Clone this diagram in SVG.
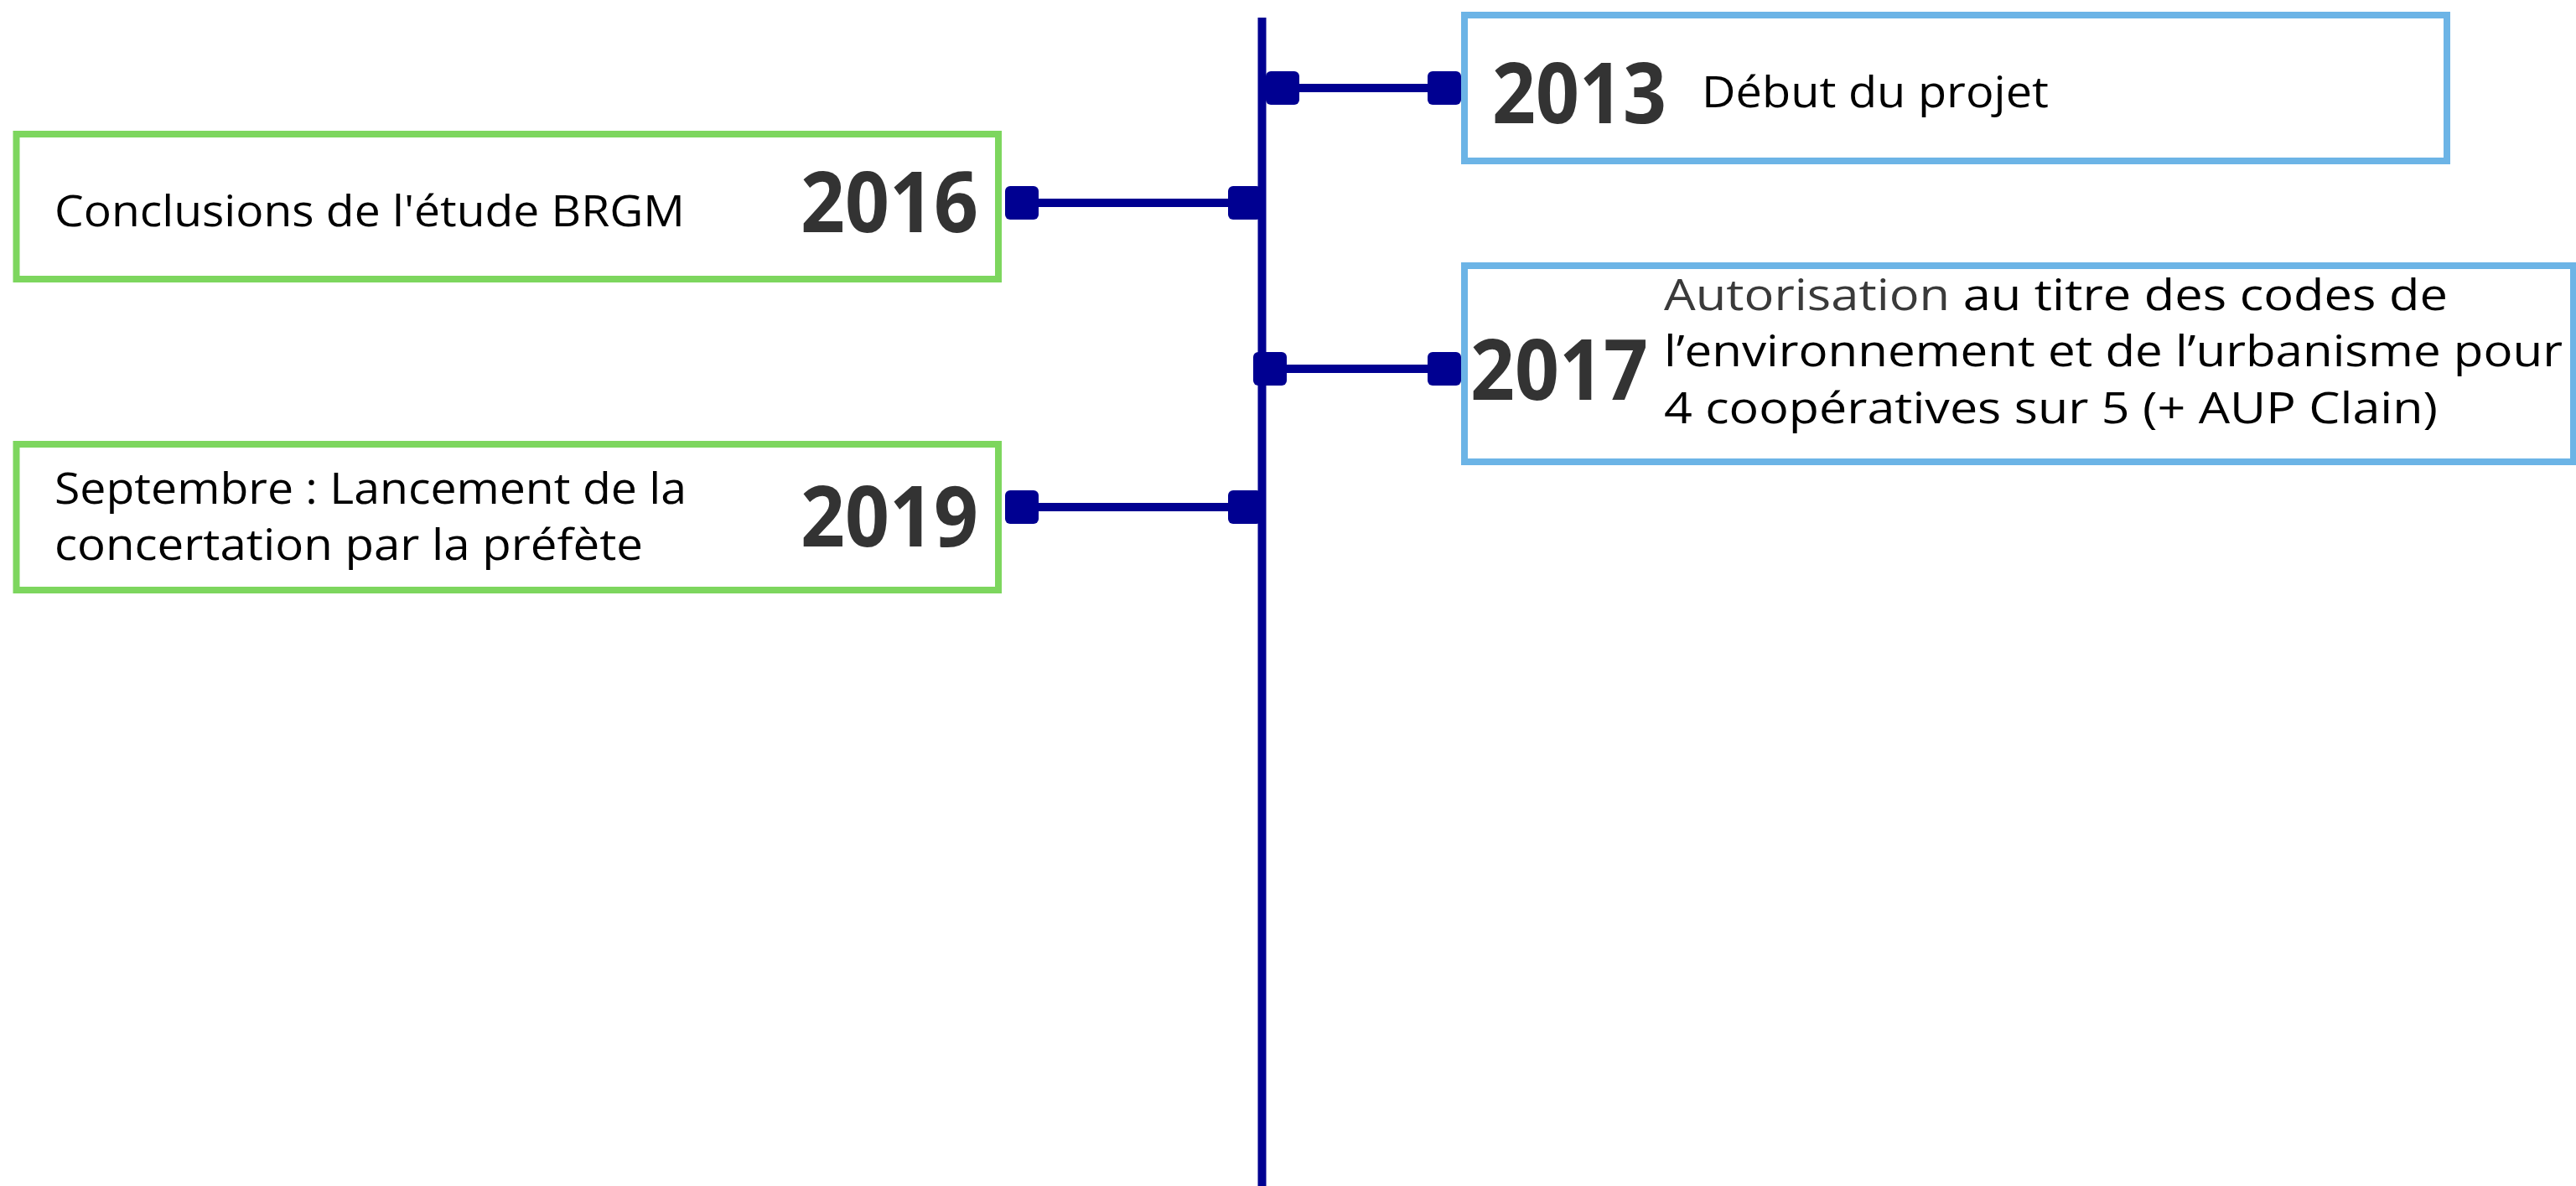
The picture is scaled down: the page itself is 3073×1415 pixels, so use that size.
<svg xmlns="http://www.w3.org/2000/svg" width="3073" height="1415" viewBox="0 0 3073 1415">
  <style>
    .box-blue { fill: #ffffff; stroke: #6cb4e6; stroke-width: 8; }
    .box-green { fill: #ffffff; stroke: #7dd65e; stroke-width: 8; }
    .year { font-family: "Open Sans", "Liberation Sans", sans-serif; font-weight: 700; font-size: 100px; fill: #333333; }
    .label { font-family: "Open Sans", "Liberation Sans", sans-serif; font-size: 51px; fill: #000000; }
    .grey { fill: #3a3a3a; }
    .axis { stroke: #000091; stroke-width: 10; }
    .link { stroke: #000091; stroke-width: 10; }
    .knob { fill: #000091; }
  </style>
  <defs>
    <rect id="knob" x="-20" y="-20" width="40" height="40" rx="6" ry="6" class="knob"/>
  </defs>
  <rect width="3073" height="1415" fill="#ffffff"/>

  <!-- timeline axis and event links -->
  <g id="connectors">
    <line class="axis" x1="1505.5" y1="21" x2="1505.5" y2="1415"/>

    <line class="link" x1="1530" y1="105" x2="1723" y2="105"/>
    <use href="#knob" x="1530" y="105"/>
    <use href="#knob" x="1723" y="105"/>

    <line class="link" x1="1219" y1="242" x2="1485" y2="242"/>
    <use href="#knob" x="1219" y="242"/>
    <use href="#knob" x="1485" y="242"/>

    <line class="link" x1="1515" y1="440" x2="1723" y2="440"/>
    <use href="#knob" x="1515" y="440"/>
    <use href="#knob" x="1723" y="440"/>

    <line class="link" x1="1219" y1="605" x2="1485" y2="605"/>
    <use href="#knob" x="1219" y="605"/>
    <use href="#knob" x="1485" y="605"/>
  </g>

  <g id="event-2013">
    <rect class="box-blue" x="1747" y="18" width="1172" height="174"/>
    <text class="year" x="1780" y="147" textLength="208" lengthAdjust="spacingAndGlyphs">2013</text>
    <text class="label" x="2030" y="128" textLength="414" lengthAdjust="spacingAndGlyphs">Début du projet</text>
  </g>

  <g id="event-2016">
    <rect class="box-green" x="19.5" y="160" width="1171.5" height="173"/>
    <text class="year" x="955" y="277" textLength="212" lengthAdjust="spacingAndGlyphs">2016</text>
    <text class="label" x="65" y="270" textLength="752" lengthAdjust="spacingAndGlyphs">Conclusions de l'étude BRGM</text>
  </g>

  <g id="event-2017">
    <rect class="box-blue" x="1747" y="317" width="1323" height="234"/>
    <text class="year" x="1754" y="477" textLength="212" lengthAdjust="spacingAndGlyphs">2017</text>
    <text class="label" x="1985" y="370" textLength="935" lengthAdjust="spacingAndGlyphs"><tspan class="grey">Autorisation</tspan> au titre des codes de</text>
    <text class="label" x="1985" y="437" textLength="1072" lengthAdjust="spacingAndGlyphs">l’environnement et de l’urbanisme pour</text>
    <text class="label" x="1985" y="505" textLength="923" lengthAdjust="spacingAndGlyphs">4 coopératives sur 5 (+ AUP Clain)</text>
  </g>

  <g id="event-2019">
    <rect class="box-green" x="19.5" y="530" width="1171.5" height="174"/>
    <text class="year" x="955" y="652" textLength="212" lengthAdjust="spacingAndGlyphs">2019</text>
    <text class="label" x="65" y="601" textLength="754" lengthAdjust="spacingAndGlyphs">Septembre : Lancement de la</text>
    <text class="label" x="65" y="668" textLength="702" lengthAdjust="spacingAndGlyphs">concertation par la préfète</text>
  </g>
</svg>
